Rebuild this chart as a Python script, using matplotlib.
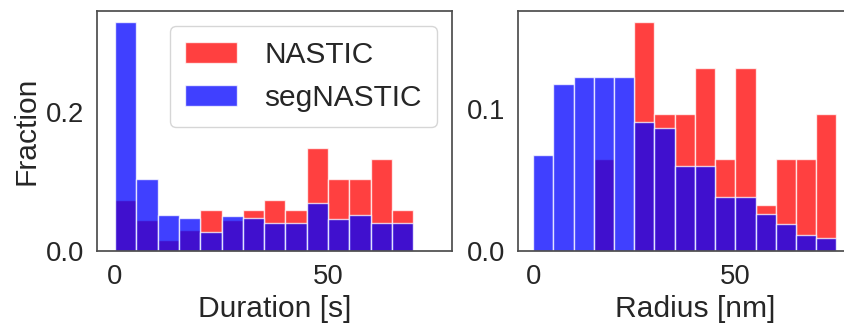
import matplotlib
matplotlib.use("Agg")
import matplotlib.pyplot as plt
import numpy as np
import seaborn as sns

# bin edges (5 units wide)
duration_edges = np.arange(0, 75, 5)   # 0..70, 14 bins
radius_edges = np.arange(0, 80, 5)     # 0..75, 15 bins

# Fractions
duration_nastic = [0.0735, 0.0441, 0.0147, 0.0294, 0.0588, 0.0441, 0.0588,
                   0.0735, 0.0588, 0.1471, 0.1029, 0.1029, 0.1324, 0.0588]
duration_segnastic = [0.329, 0.103, 0.052, 0.047, 0.027, 0.050, 0.047,
                      0.040, 0.040, 0.068, 0.045, 0.052, 0.040, 0.040]

radius_nastic = [0.0, 0.0, 0.0, 0.0645, 0.0, 0.1613, 0.0968, 0.0968,
                 0.1290, 0.0645, 0.1290, 0.0323, 0.0645, 0.0645, 0.0968]
radius_segnastic = [0.0673, 0.1178, 0.1226, 0.1226, 0.1226, 0.0913, 0.0866,
                    0.0600, 0.0600, 0.0379, 0.0379, 0.0259, 0.0188, 0.0113, 0.0090]

labels = ["NASTIC", "segNASTIC"]

sns.set_theme(style="white", context="notebook", font_scale=1.8)
plt.rcParams["font.family"] = ["Liberation Sans", "DejaVu Sans"]
plt.rcParams["axes.edgecolor"] = ".3"

W, H = 844, 323
fig = plt.figure(figsize=(W / 100, H / 100), dpi=100)

ax1 = fig.add_axes([97.3 / W, 1 - 250.7 / H, 354.4 / W, 239.7 / H])
ax2 = fig.add_axes([518.3 / W, 1 - 250.7 / H, 354.4 / W, 239.7 / H])


def draw(ax, edges, red_vals, blue_vals):
    centers = edges[:-1] + 2.5
    ax.hist(centers, bins=edges, weights=red_vals, color="red", alpha=0.75,
            edgecolor="white", linewidth=1, label=labels[0])
    ax.hist(centers, bins=edges, weights=blue_vals, color="blue", alpha=0.75,
            edgecolor="white", linewidth=1, label=labels[1])


draw(ax1, duration_edges, duration_nastic, duration_segnastic)
draw(ax2, radius_edges, radius_nastic, radius_segnastic)

ax1.set_xlim(-4.15, 79)
ax1.set_ylim(0, 0.3445)
ax1.set_xticks([0, 50])
ax1.set_yticks([0.0, 0.2])
ax1.set_yticklabels(["0.0", "0.2"])
ax1.set_xlabel("Duration [s]")
ax1.set_ylabel("Fraction")
ax1.legend(loc="upper right", fontsize=21.5, handlelength=1.75,
           borderpad=0.5, handletextpad=0.9, borderaxespad=0.5)

ax2.set_xlim(-3.7, 84)
ax2.set_ylim(0, 0.1694)
ax2.set_xticks([0, 50])
ax2.set_yticks([0.0, 0.1])
ax2.set_yticklabels(["0.0", "0.1"])
ax2.set_xlabel("Radius [nm]")

fig.savefig("out.png", dpi=100)
